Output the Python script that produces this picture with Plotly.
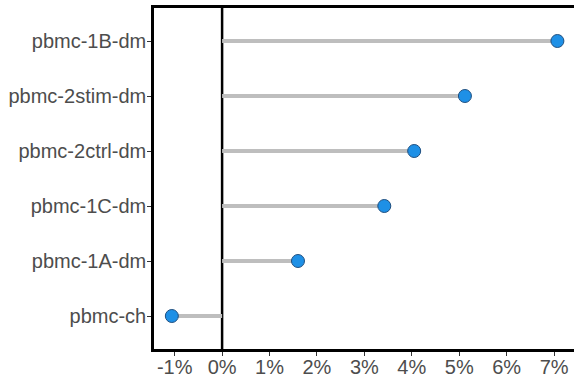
import plotly.graph_objects as go

# Samples (bottom to top) and their percentage values
samples = ["pbmc-ch", "pbmc-1A-dm", "pbmc-1C-dm", "pbmc-2ctrl-dm", "pbmc-2stim-dm", "pbmc-1B-dm"]
values = [-1.06, 1.60, 3.42, 4.05, 5.12, 7.07]
tick_vals = [-1, 0, 1, 2, 3, 4, 5, 6, 7]
tick_text = [f"{t}%" for t in tick_vals]

text_col = "#4D4D4D"

# Lollipop stems from 0 to each value
stem_x, stem_y = [], []
for s, v in zip(samples, values):
    stem_x += [0, v, None]
    stem_y += [s, s, None]

fig = go.Figure()
fig.add_trace(go.Scatter(
    x=stem_x, y=stem_y, mode="lines",
    line=dict(color="#BEBEBE", width=4),
    hoverinfo="skip", showlegend=False,
))
fig.add_trace(go.Scatter(
    x=values, y=samples, mode="markers",
    marker=dict(size=13, color="#1E90E6", line=dict(color="#1F4F80", width=1)),
    showlegend=False,
))

# Vertical reference line at zero
fig.add_shape(type="line", xref="x", yref="paper", x0=0, x1=0, y0=0, y1=1,
              line=dict(color="black", width=2.5), layer="below")

fig.update_layout(
    width=574, height=379,
    margin=dict(l=154, r=0, t=8, b=30),
    plot_bgcolor="white", paper_bgcolor="white",
    font=dict(family="Liberation Sans, Arial, sans-serif", size=20, color=text_col),
)
fig.update_xaxes(
    range=[-1.436, 7.42], tickvals=tick_vals, ticktext=tick_text,
    showgrid=False, zeroline=False,
    showline=True, linecolor="black", linewidth=2.5, mirror=True,
    ticks="outside", ticklen=4, tickwidth=1, tickcolor="#333333",
    tickfont=dict(size=20, color=text_col), automargin=False,
    ticklabelstandoff=-6,
)
fig.update_yaxes(
    categoryorder="array", categoryarray=samples, range=[-0.6, 5.6],
    showgrid=False, zeroline=False,
    showline=True, linecolor="black", linewidth=2.5, mirror=False,
    ticks="outside", ticklen=4, tickwidth=1, tickcolor="#333333",
    tickfont=dict(size=20, color=text_col), automargin=False,
    ticklabelstandoff=-3,
)

fig.write_html("out.html")
